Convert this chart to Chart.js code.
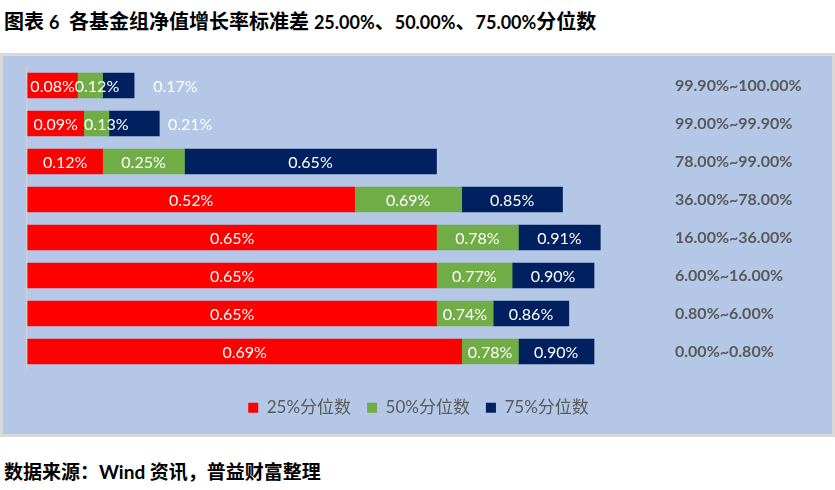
<!DOCTYPE html>
<html>
<head>
<meta charset="utf-8">
<script src="https://cdn.jsdelivr.net/npm/chart.js@4"></script>
<style>
  html, body { margin:0; padding:0; background:#fff; width:835px; height:490px; overflow:hidden; }
  #title { position:absolute; left:4px; top:9px; font: bold 20px Lato, "Noto Sans CJK SC", sans-serif; line-height:24px; color:#000; white-space:nowrap; }
  #title .n { font-size:18px; }
  #box { position:absolute; left:0; top:53px; width:829px; height:378px; border:3px solid #D9D9D9; background:#B4C7E7; }
  #foot { position:absolute; left:4px; top:460px; font: bold 19px Lato, "Noto Sans CJK SC", sans-serif; line-height:23px; color:#000; white-space:nowrap; }
  canvas { display:block; }
</style>
</head>
<body>
<div id="title">图表 <span class="n">6</span>&nbsp; 各基金组净值增长率标准差 <span class="n">25.00%</span>、<span class="n">50.00%</span>、<span class="n">75.00%</span>分位数</div>
<div id="box"><canvas id="c" width="829" height="378"></canvas></div>
<div id="foot">数据来源：Wind 资讯，普益财富整理</div>
<script>
// ---- data ----
const categories = ['99.90%~100.00%','99.00%~99.90%','78.00%~99.00%','36.00%~78.00%','16.00%~36.00%','6.00%~16.00%','0.80%~6.00%','0.00%~0.80%'];
const seriesNames = ['25%分位数','50%分位数','75%分位数'];
const p25 = [0.08, 0.09, 0.12, 0.52, 0.65, 0.65, 0.65, 0.69];
const p50 = [0.12, 0.13, 0.25, 0.69, 0.78, 0.77, 0.74, 0.78];
const p75 = [0.17, 0.21, 0.65, 0.85, 0.91, 0.90, 0.86, 0.90];

const colors = ['#FF0000', '#70AD47', '#002060'];
// label nudges (px) for labels Excel moved off small segments
const labelNudge = [{}, {0: 7, 1: 10}, {0: 57, 1: 56}];

const ends = [p25, p50, p75];
const starts = [p25.map(() => 0), p25, p50];

const valueLabels = {
  id: 'valueLabels',
  afterDatasetsDraw(chart) {
    const ctx = chart.ctx;
    ctx.save();
    ctx.fillStyle = '#FFFFFF';
    ctx.font = '16px Lato, "Noto Sans CJK SC", sans-serif';
    ctx.textAlign = 'center';
    ctx.textBaseline = 'middle';
    chart.data.datasets.forEach((ds, di) => {
      const meta = chart.getDatasetMeta(di);
      meta.data.forEach((el, i) => {
        const cx = (el.x + el.base) / 2 + (labelNudge[di][i] || 0);
        ctx.fillText(ends[di][i].toFixed(2) + '%', cx, el.y + 1);
      });
    });
    ctx.restore();
  }
};

new Chart(document.getElementById('c'), {
  type: 'bar',
  data: {
    labels: categories,
    datasets: seriesNames.map((name, k) => ({
      label: name,
      data: categories.map((c, i) => [starts[k][i], ends[k][i]]),
      backgroundColor: colors[k],
      borderWidth: 0,
      barThickness: 25,
      grouped: false
    }))
  },
  options: {
    indexAxis: 'y',
    responsive: false,
    animation: false,
    layout: { padding: { top: 10.5, left: 24, right: 22, bottom: 7.8 } },
    scales: {
      x: {
        min: 0, max: 1,
        position: 'bottom',
        ticks: { display: false },
        border: { display: false },
        grid: {
          drawTicks: false,
          lineWidth: 1.5,
          color: (ctx) => (ctx.tick && ctx.tick.value === 0) ? '#D0D0D0' : 'rgba(0,0,0,0)'
        },
        afterFit(scale) { scale.height = 12.7; scale.paddingLeft = 0; scale.paddingRight = 0; }
      },
      y: {
        position: 'right',
        grid: { display: false, drawTicks: false },
        border: { display: false },
        ticks: {
          crossAlign: 'near',
          padding: 18,
          color: '#595959',
          font: { family: 'Lato, "Noto Sans CJK SC", sans-serif', size: 16, weight: 'bold' }
        },
        afterFit(scale) { scale.width = 153; scale.paddingTop = 0; scale.paddingBottom = 0; }
      }
    },
    plugins: {
      legend: {
        position: 'bottom',
        labels: {
          boxWidth: 10, boxHeight: 10, padding: 16,
          color: '#595959',
          font: { family: 'Lato, "Noto Sans CJK SC", sans-serif', size: 17 }
        }
      },
      tooltip: { enabled: false }
    }
  },
  plugins: [valueLabels]
});
</script>
</body>
</html>
